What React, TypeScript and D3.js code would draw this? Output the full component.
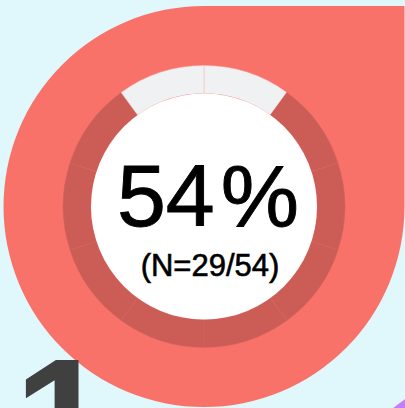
import React from "react";
import * as d3 from "d3";

const percentValue = "54";
const percentSign = "%";
const countLabel = "(N=29/54)";
const rankLabel = "1";
// 10 equal gauge segments, clockwise from 12 o'clock; true = filled
const segmentValues = [1, 1, 1, 1, 1, 1, 1, 1, 1, 1];
const segmentFilled = [false, true, true, true, true, true, true, true, true, false];

const W = 405;
const H = 408;
const cx = 204;
const cy = 206.5;
const rShape = 200.5;
const rOuter = 141;
const rInner = 113;

export default function App() {
  const pie = d3.pie<number>().value((d) => d).sort(null);
  const arcs = pie(segmentValues);
  const arcGen = d3.arc<d3.PieArcDatum<number>>().innerRadius(rInner).outerRadius(rOuter);

  // teardrop: circle with square top-right quadrant
  const shapePath = `M ${cx} ${cy - rShape} L ${cx + rShape} ${cy - rShape} L ${cx + rShape} ${cy} A ${rShape} ${rShape} 0 1 1 ${cx} ${cy - rShape} Z`;

  return (
    <svg
      width={W}
      height={H}
      style={{ position: "fixed", left: 0, top: 0, display: "block" }}
      fontFamily="'Liberation Sans', Arial, Helvetica, sans-serif"
    >
      <defs>
        <radialGradient id="greyGrad" cx={cx} cy={cy} r={rOuter} gradientUnits="userSpaceOnUse">
          <stop offset={rInner / rOuter} stopColor="#d9dadd" />
          <stop offset="0.93" stopColor="#ebedef" />
          <stop offset="1" stopColor="#eff1f3" />
        </radialGradient>
        <radialGradient id="darkGrad" cx={cx} cy={cy} r={rOuter} gradientUnits="userSpaceOnUse">
          <stop offset={rInner / rOuter} stopColor="#d4635c" />
          <stop offset="1" stopColor="#cc5c56" />
        </radialGradient>
      </defs>
      <rect x={0} y={0} width={W} height={H} fill="#e0f8fc" />
      <circle cx={519} cy={563.5} r={200} fill="#c77cff" />
      <path d={shapePath} fill="#f8726a" />
      <text x={14} y={480} fontSize={174} fontWeight={900} fill="#404040">
        {rankLabel}
      </text>
      <g transform={`translate(${cx},${cy})`}>
        {arcs.map((a, i) => (
          <path
            key={i}
            d={arcGen(a) || ""}
            fill={segmentFilled[i] ? "url(#darkGrad)" : "url(#greyGrad)"}
            stroke={segmentFilled[i] ? "#d66861" : "#f0b8b4"}
            strokeWidth={0.5}
          />
        ))}
        <circle r={rInner} fill="#ffffff" />
      </g>
      <text x={208} y={226} textAnchor="middle" fontSize={88} fill="#000" stroke="#000" strokeWidth={0.9}>
        {percentValue}
        <tspan dx={6}>{percentSign}</tspan>
      </text>
      <text x={210} y={276} textAnchor="middle" fontSize={31} fill="#000" stroke="#000" strokeWidth={0.6}>
        {countLabel}
      </text>
    </svg>
  );
}
